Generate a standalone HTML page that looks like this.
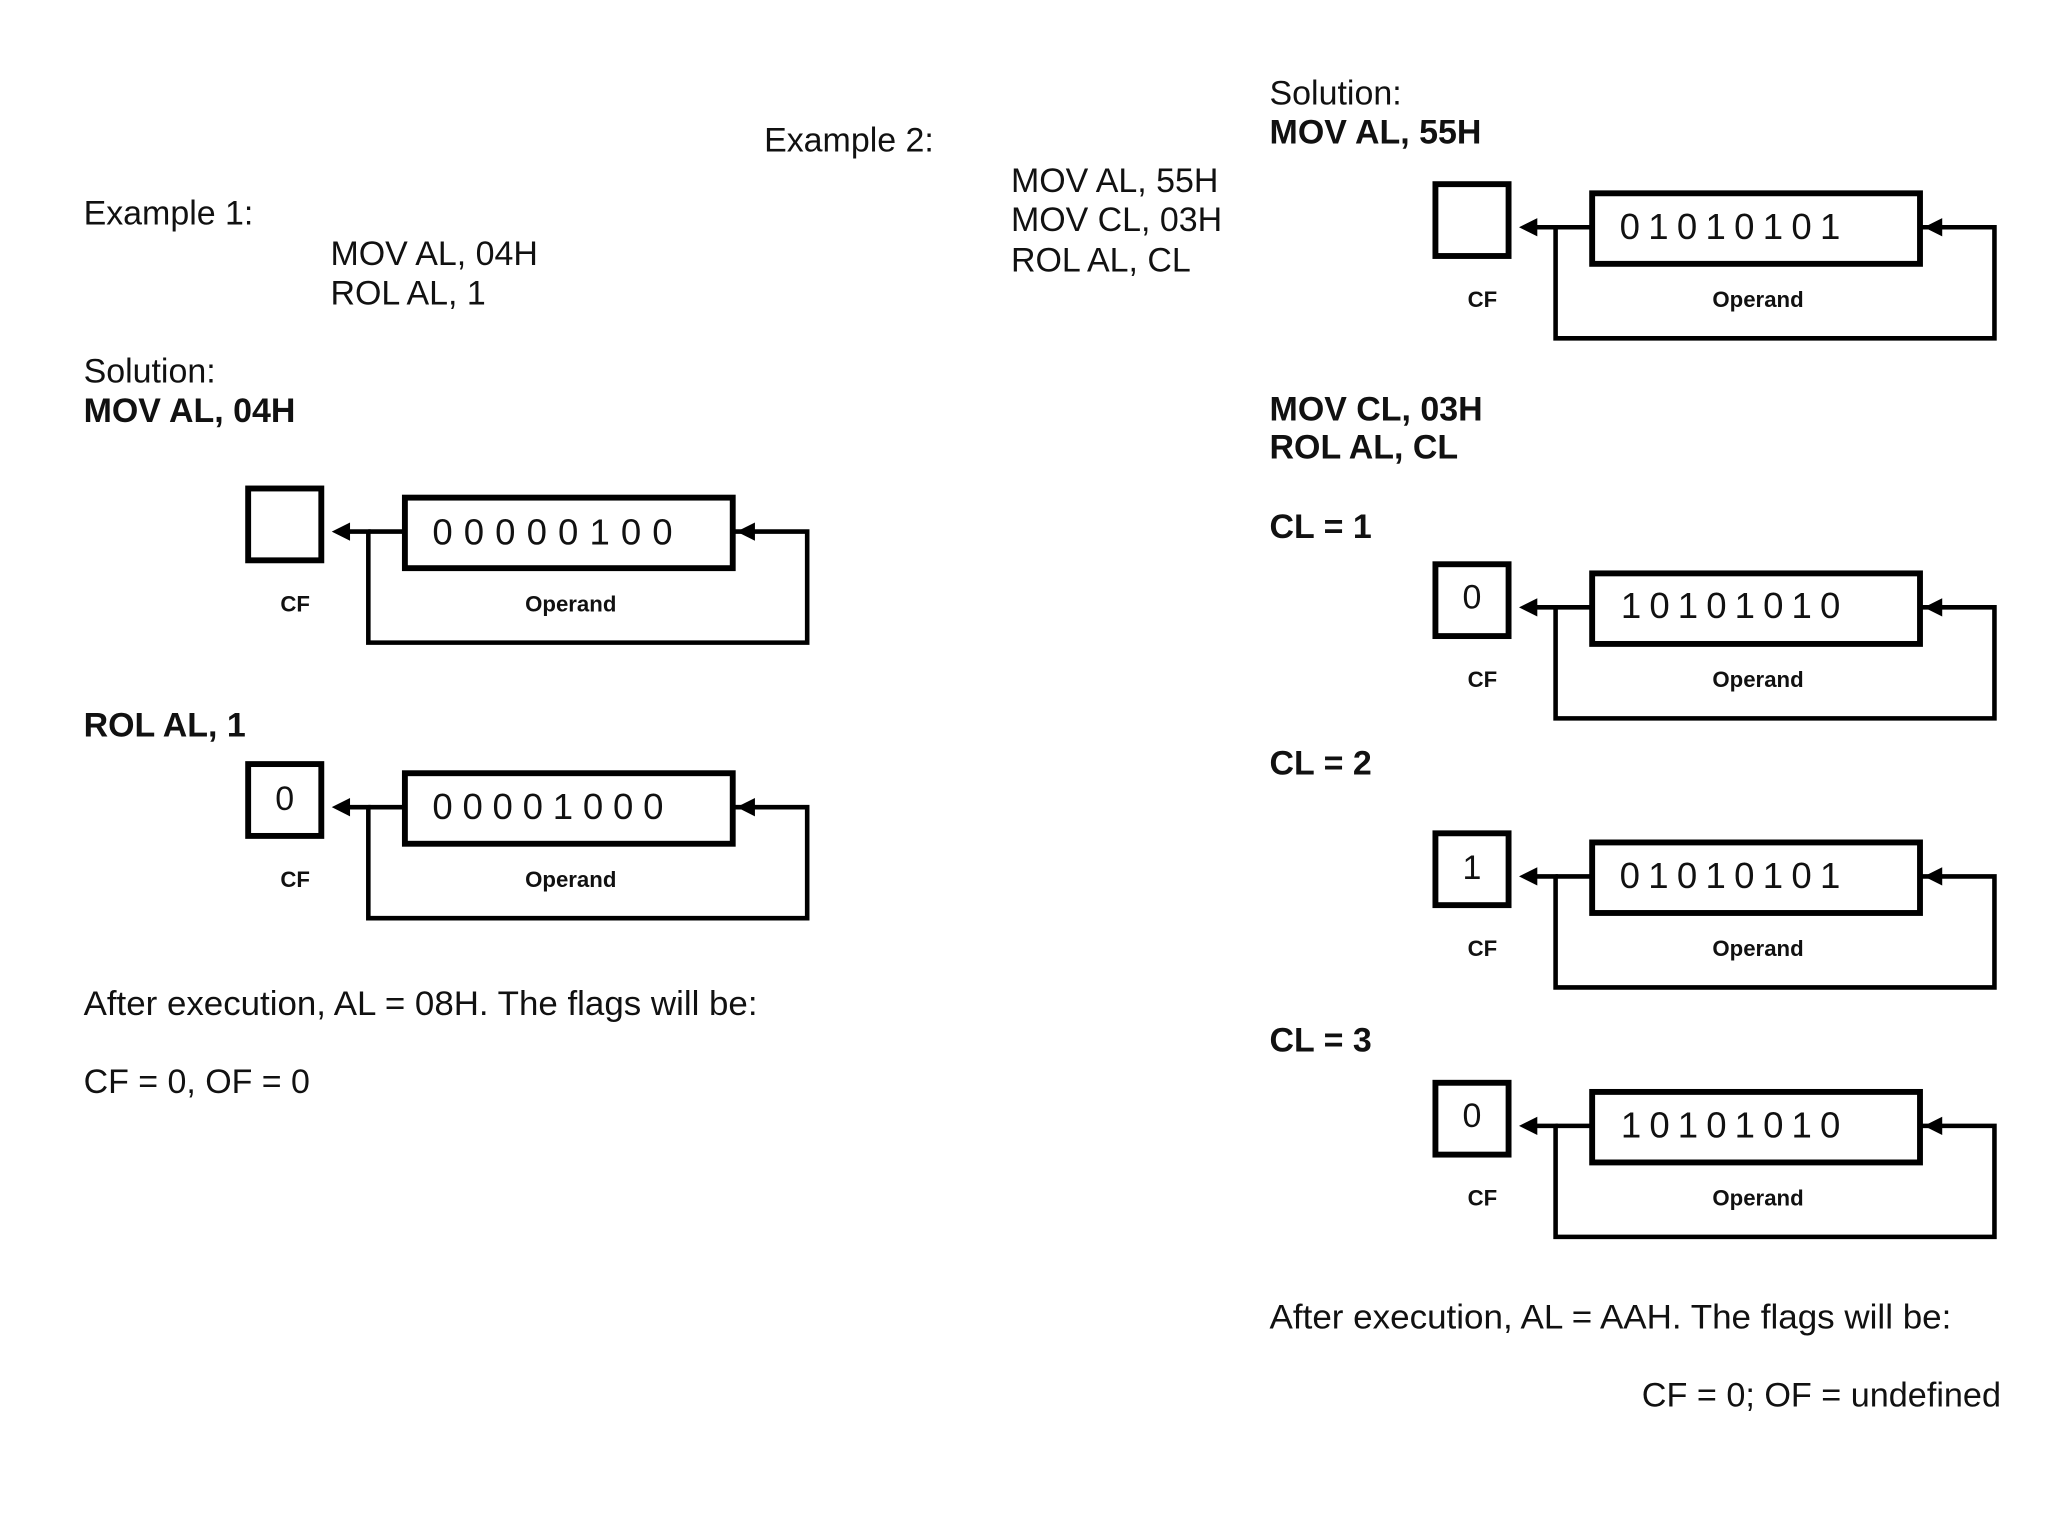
<!DOCTYPE html>
<html><head><meta charset="utf-8"><style>
html,body{margin:0;padding:0;background:#fff;}
svg{display:block;}
text{font-family:"Liberation Sans",Arial,sans-serif;fill:#111;}
.r{font-size:26px;}
.b{font-size:26px;font-weight:bold;}
.s{font-size:17px;font-weight:bold;}
.bits{font-size:28px;}
</style></head><body>
<svg width="2048" height="1536" viewBox="0 0 1568 1176" xmlns="http://www.w3.org/2000/svg">
<defs>
<g id="dg">
  <rect x="2" y="2" width="56" height="55" fill="none" stroke="#000" stroke-width="4.5"/>
  <rect x="122" y="9" width="251" height="54" fill="none" stroke="#000" stroke-width="4.5"/>
  <polyline points="373,35 430,35 430,120 94,120 94,35 74,35" fill="none" stroke="#000" stroke-width="3.5"/>
  <line x1="94" y1="35" x2="122" y2="35" stroke="#000" stroke-width="3.5"/>
  <polygon points="66,35 80,28 80,42" fill="#000"/>
  <polygon points="376,35 390,28 390,42" fill="#000"/>
  <text class="s" x="38" y="96" text-anchor="middle">CF</text>
  <text class="s" x="249" y="96" text-anchor="middle">Operand</text>
</g>
</defs>

<!-- Left column -->
<text class="r" x="64" y="172">Example 1:</text>
<text class="r" x="253" y="203">MOV AL, 04H</text>
<text class="r" x="253" y="233">ROL AL, 1</text>
<text class="r" x="64" y="293">Solution:</text>
<text class="b" x="64" y="323">MOV AL, 04H</text>

<g transform="translate(188,372)">
  <use href="#dg"/>
  <text class="bits" x="143" y="45" textLength="184" lengthAdjust="spacing">0 0 0 0   0 1 0 0</text>
</g>

<text class="b" x="64" y="564">ROL AL, 1</text>
<g transform="translate(188,583)">
  <use href="#dg"/>
  <text class="r" x="30" y="37" text-anchor="middle">0</text>
  <text class="bits" x="143" y="44" textLength="177" lengthAdjust="spacing">0 0 0 0  1 0 0 0</text>
</g>

<text class="r" x="64" y="777" textLength="516" lengthAdjust="spacingAndGlyphs">After execution, AL = 08H.  The flags will be:</text>
<text class="r" x="64" y="837">CF = 0, OF = 0</text>

<!-- Middle -->
<text class="r" x="585" y="116">Example 2:</text>
<text class="r" x="774" y="147">MOV AL, 55H</text>
<text class="r" x="774" y="177">MOV CL, 03H</text>
<text class="r" x="774" y="208">ROL AL, CL</text>

<!-- Right column -->
<text class="r" x="972" y="80">Solution:</text>
<text class="b" x="972" y="110">MOV AL, 55H</text>

<g transform="translate(1097,139)">
  <use href="#dg"/>
  <text class="bits" x="143" y="44" textLength="169" lengthAdjust="spacing">0 1 0 1 0 1 0 1</text>
</g>

<text class="b" x="972" y="322">MOV CL, 03H</text>
<text class="b" x="972" y="351">ROL AL, CL</text>

<text class="b" x="972" y="412">CL = 1</text>
<g transform="translate(1097,430)">
  <use href="#dg"/>
  <text class="r" x="30" y="36" text-anchor="middle">0</text>
  <text class="bits" x="144" y="43" textLength="168" lengthAdjust="spacing">1 0 1 0 1 0 1 0</text>
</g>

<text class="b" x="972" y="593">CL = 2</text>
<g transform="translate(1097,636)">
  <use href="#dg"/>
  <text class="r" x="30" y="37" text-anchor="middle">1</text>
  <text class="bits" x="143" y="44" textLength="169" lengthAdjust="spacing">0 1 0 1 0 1 0 1</text>
</g>

<text class="b" x="972" y="805">CL = 3</text>
<g transform="translate(1097,827)">
  <use href="#dg"/>
  <text class="r" x="30" y="36" text-anchor="middle">0</text>
  <text class="bits" x="144" y="44" textLength="168" lengthAdjust="spacing">1 0 1 0 1 0 1 0</text>
</g>

<text class="r" x="972" y="1017" textLength="522" lengthAdjust="spacingAndGlyphs">After execution, AL = AAH.  The flags will be:</text>
<text class="r" x="1257" y="1077" textLength="275" lengthAdjust="spacingAndGlyphs">CF = 0; OF = undefined</text>
</svg>
</body></html>
